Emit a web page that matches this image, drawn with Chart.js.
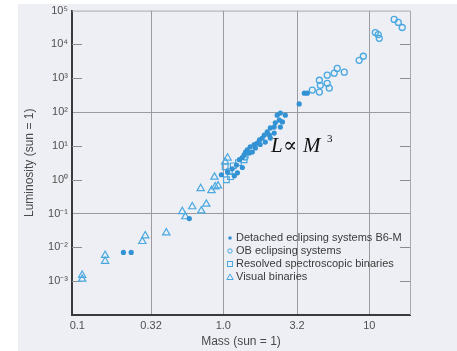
<!DOCTYPE html>
<html>
<head>
<meta charset="utf-8">
<script src="https://cdn.jsdelivr.net/npm/chart.js@4.4.0/dist/chart.umd.min.js"></script>
<style>
  html, body { margin: 0; padding: 0; background: #ffffff; }
  #paper { position: absolute; left: 18px; top: 4px; width: 439px; height: 347px; background: #edeff4; }
  #wrap { position: absolute; left: 0; top: 0; width: 457px; height: 351px; }
</style>
</head>
<body>
<div id="paper"></div>
<div id="wrap"><canvas id="mlChart" width="457" height="351"></canvas></div>
<script>
// tick positions / labels
const massTicks = [0.1, 0.32, 1.0, 3.2, 10];
const massTickLabels = ["0.1", "0.32", "1.0", "3.2", "10"];
const lumTicks = [1e-3, 1e-2, 1e-1, 1e0, 1e1, 1e2, 1e3, 1e4, 1e5];
const lumTickLabels = ["10⁻³", "10⁻²", "10⁻¹", "10⁰", "10¹", "10²", "10³", "10⁴", "10⁵"];

// Detached eclipsing systems B6-M (filled dots)
const detachedMass = [0.97, 1.07, 1.15, 1.23, 1.25, 1.19, 1.35, 1.29, 1.35, 1.39, 1.42, 1.46, 1.51, 1.53,
  1.58, 1.63, 1.66, 1.71, 1.77, 1.79, 1.85, 1.91, 1.94, 2.0, 2.07, 2.10, 2.10, 2.23, 2.23, 2.27, 2.34,
  2.42, 2.46, 2.46, 2.54, 2.66, 0.207, 0.234, 0.585, 3.31, 3.59, 3.76];
const detachedLum = [1.4, 1.7, 2.1, 2.7, 1.6, 1.3, 2.3, 3.9, 4.5, 5.5, 6.6, 7.6, 6.2, 9.4,
  6.6, 11, 8.7, 12, 15, 11, 17, 21, 13, 26, 21, 34, 17, 36, 24, 48, 81,
  58, 94, 36, 51, 81, 0.0071, 0.0071, 0.071, 174, 363, 363];

// OB eclipsing systems (open circles)
const obMass = [1.41, 4.07, 4.55, 4.62, 4.55, 5.15, 5.32, 5.15, 5.75, 6.03, 6.74, 8.52, 9.1,
  11.0, 11.5, 11.7, 14.8, 15.8, 16.8];
const obLum = [4.7, 447, 389, 617, 871, 708, 513, 1230, 1410, 1950, 1510, 3390, 4470,
  22400, 19500, 15100, 55000, 44700, 31600];

// Resolved spectroscopic binaries (open squares)
const specMass = [1.03, 1.10, 1.12, 1.17, 1.05, 1.39, 1.27];
const specLum = [2.4, 1.74, 1.23, 2.57, 1.0, 3.9, 3.2];

// Visual binaries (open triangles)
const visualMass = [0.108, 0.108, 0.155, 0.155, 0.279, 0.292, 0.407, 0.524, 0.55, 0.613, 0.707,
  0.765, 0.70, 0.83, 0.88, 0.87, 1.03, 1.07, 0.92];
const visualLum = [0.0015, 0.00115, 0.0058, 0.0039, 0.015, 0.022, 0.027, 0.115, 0.081, 0.16, 0.12,
  0.19, 0.55, 0.48, 0.62, 1.2, 3.4, 4.4, 0.66];

const seriesNames = ["Detached eclipsing systems B6-M", "OB eclipsing systems",
  "Resolved spectroscopic binaries", "Visual binaries"];

const dotBlue = "#3292d4";
const lineBlue = "#4aa8e0";
const textFont = "'Liberation Sans', Arial, sans-serif";

const toPoints = (xs, ys) => xs.map((m, i) => ({ x: m, y: ys[i] }));

// frame, inner ticks, legend and the L ∝ M³ note
const decorations = {
  id: "decorations",
  beforeDatasetsDraw(chart) {
    const { ctx, chartArea: a, scales: { y } } = chart;
    ctx.save();
    ctx.strokeStyle = "#a9a9ad";
    ctx.lineWidth = 1;
    ctx.beginPath();
    ctx.moveTo(a.left, a.top + 0.5);
    ctx.lineTo(a.right + 0.5, a.top + 0.5);
    ctx.lineTo(a.right + 0.5, a.bottom);
    ctx.stroke();
    // short inward ticks on both sides
    ctx.strokeStyle = "#8c8c90";
    lumTicks.forEach(v => {
      if (v === 100 || v === 0.1 || v === 1e5) return;
      const py = Math.round(y.getPixelForValue(v)) + 0.5;
      ctx.beginPath();
      ctx.moveTo(a.left, py); ctx.lineTo(a.left + 10, py);
      ctx.moveTo(a.right - 10, py); ctx.lineTo(a.right, py);
      ctx.stroke();
    });
    ctx.restore();
  },
  afterDraw(chart) {
    const { ctx } = chart;
    ctx.save();
    // legend
    const lx = 230, ly0 = 238, step = 13;
    ctx.font = "11px " + textFont;
    ctx.fillStyle = "#3a3a3a";
    ctx.textBaseline = "middle";
    seriesNames.forEach((name, i) => {
      ctx.fillText(name, lx + 6, ly0 + i * step);
    });
    ctx.lineWidth = 1;
    ctx.strokeStyle = lineBlue;
    ctx.fillStyle = dotBlue;
    ctx.beginPath(); ctx.arc(lx, ly0, 1.8, 0, Math.PI * 2); ctx.fill();
    ctx.beginPath(); ctx.arc(lx, ly0 + step, 2.2, 0, Math.PI * 2); ctx.stroke();
    ctx.strokeRect(lx - 2.5, ly0 + 2 * step - 2.5, 5, 5);
    ctx.beginPath();
    const ty = ly0 + 3 * step;
    ctx.moveTo(lx, ty - 3); ctx.lineTo(lx + 3.2, ty + 2.5); ctx.lineTo(lx - 3.2, ty + 2.5); ctx.closePath();
    ctx.stroke();
    // L ∝ M³
    ctx.fillStyle = "#111";
    ctx.textBaseline = "alphabetic";
    ctx.font = "italic 21px 'Liberation Serif', 'DejaVu Serif', serif";
    ctx.fillText("L", 271, 152);
    ctx.font = "21px 'DejaVu Serif', 'Liberation Serif', serif";
    ctx.fillText("∝", 283, 152);
    ctx.font = "italic 21px 'Liberation Serif', 'DejaVu Serif', serif";
    ctx.fillText("M", 303, 152);
    ctx.font = "11px 'Liberation Serif', serif";
    ctx.fillText("3", 327, 142);
    ctx.restore();
  }
};

const ctx = document.getElementById("mlChart").getContext("2d");
new Chart(ctx, {
  type: "scatter",
  data: {
    datasets: [
      { label: seriesNames[0], data: toPoints(detachedMass, detachedLum), pointStyle: "circle",
        pointRadius: 2.6, backgroundColor: dotBlue, borderColor: dotBlue, borderWidth: 0 },
      { label: seriesNames[1], data: toPoints(obMass, obLum), pointStyle: "circle",
        pointRadius: 3, backgroundColor: "rgba(0,0,0,0)", borderColor: lineBlue, borderWidth: 1.3 },
      { label: seriesNames[2], data: toPoints(specMass, specLum), pointStyle: "rect",
        pointRadius: 4, backgroundColor: "rgba(0,0,0,0)", borderColor: lineBlue, borderWidth: 1.2 },
      { label: seriesNames[3], data: toPoints(visualMass, visualLum), pointStyle: "triangle",
        pointRadius: 4.2, backgroundColor: "rgba(0,0,0,0)", borderColor: lineBlue, borderWidth: 1.2 }
    ]
  },
  options: {
    responsive: false,
    animation: false,
    devicePixelRatio: 1,
    layout: { padding: { left: 0, right: 47, top: 10, bottom: 0 } },
    plugins: { legend: { display: false }, tooltip: { enabled: false } },
    scales: {
      x: {
        type: "logarithmic",
        min: 0.092, max: 19,
        afterBuildTicks: s => { s.ticks = massTicks.map(v => ({ value: v })); },
        afterFit: s => { s.height = 36; },
        ticks: {
          autoSkip: false, maxRotation: 0, padding: 4,
          color: "#505050", font: { family: textFont, size: 11 },
          callback: v => massTickLabels[massTicks.indexOf(v)] ?? ""
        },
        grid: {
          drawTicks: false,
          color: c => (c.tick && c.tick.value !== 0.1 ? "#9a9a9f" : "rgba(0,0,0,0)"),
          lineWidth: 1
        },
        border: { color: "#3a3a3a", width: 2 },
        title: { display: true, text: "Mass (sun = 1)", color: "#4a4a4a",
          font: { family: textFont, size: 12 }, padding: { top: 2, bottom: 2 } }
      },
      y: {
        type: "logarithmic",
        min: 1e-4, max: 1e5,
        afterBuildTicks: s => { s.ticks = lumTicks.map(v => ({ value: v })); },
        afterFit: s => { s.width = 72; },
        ticks: {
          autoSkip: false, padding: 4,
          color: "#505050", font: { family: textFont, size: 11 },
          callback: v => lumTickLabels[lumTicks.indexOf(v)] ?? ""
        },
        grid: {
          drawTicks: false,
          color: c => (c.tick && (c.tick.value === 100 || c.tick.value === 0.1) ? "#9a9a9f" : "rgba(0,0,0,0)"),
          lineWidth: 1
        },
        border: { color: "#3a3a3a", width: 2 },
        title: { display: true, text: "Luminosity (sun = 1)", color: "#4a4a4a",
          font: { family: textFont, size: 12 }, padding: { top: 22, bottom: 2 } }
      }
    }
  },
  plugins: [decorations]
});
</script>
</body>
</html>
